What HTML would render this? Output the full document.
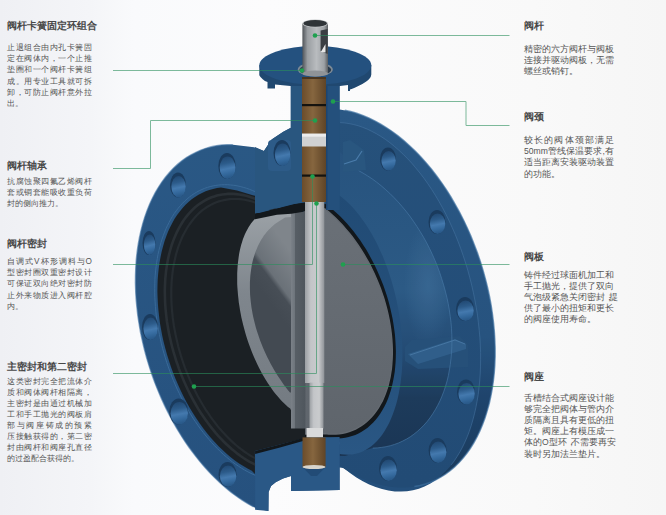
<!DOCTYPE html>
<html><head><meta charset="utf-8">
<style>
html,body{margin:0;padding:0;}
body{width:666px;height:515px;overflow:hidden;position:relative;font-family:"Liberation Sans",sans-serif;background:#f7f7f7;}
svg{position:absolute;left:0;top:0;}
.h{position:absolute;font-size:10px;font-weight:bold;color:#474747;line-height:12px;white-space:nowrap;}
.b{position:absolute;font-size:8.6px;color:#555;line-height:11.2px;white-space:nowrap;}
.b .j{text-align:justify;text-align-last:justify;}
</style></head><body>
<svg width="666" height="515" viewBox="0 0 666 515">
<defs>
<clipPath id="cLF"><path d="M291.0,127.8 L283.3,131.7 L271.6,139.4 L263.9,151.0 L254.1,147.2 L232.9,144.7 L227.3,144.7 L221.7,145.0 L216.3,145.8 L211.0,146.9 L205.7,148.3 L200.6,150.2 L195.7,152.4 L190.8,154.9 L186.1,157.8 L181.6,161.1 L177.3,164.7 L173.1,168.6 L169.1,172.9 L165.3,177.5 L161.7,182.3 L158.3,187.5 L155.1,193.0 L152.1,198.7 L149.4,204.8 L146.9,211.0 L144.6,217.5 L142.6,224.3 L140.8,231.2 L139.3,238.4 L138.0,245.7 L137.0,253.2 L136.2,260.9 L135.7,268.7 L135.5,276.6 L135.5,284.7 L135.7,292.8 L136.3,301.0 L137.1,309.3 L138.1,317.7 L139.4,326.0 L141.0,334.4 L142.8,342.8 L144.8,351.1 L147.1,359.4 L149.6,367.7 L152.4,375.8 L155.3,383.9 L158.6,391.9 L162.0,399.8 L165.6,407.6 L169.4,415.1 L173.4,422.6 L177.6,429.8 L182.0,436.9 L186.5,443.7 L191.2,450.3 L196.1,456.7 L201.1,462.9 L206.2,468.8 L211.4,474.4 L216.8,479.7 L222.2,484.7 L227.7,489.5 L233.4,493.9 L239.0,498.0 L244.8,501.7 L250.5,505.2 L256.3,508.3 L268.4,511.0 L268.6,492.0 L271.0,486.0 L276.0,482.0 L283.0,478.5 L291.0,476.0 L291.0,491.0 L339.6,490.0 L339.6,440.0 L305.0,440.0 L303.0,86.0 L290.8,86.0 L290.8,127.8 Z"/></clipPath>
<linearGradient id="gFace" gradientUnits="userSpaceOnUse" x1="0" y1="120" x2="0" y2="480"><stop offset="0" stop-color="#285582"/><stop offset="1" stop-color="#244f7b"/></linearGradient>
<linearGradient id="gInner" gradientUnits="userSpaceOnUse" x1="0" y1="150" x2="0" y2="460"><stop offset="0" stop-color="#2a5885"/><stop offset="0.45" stop-color="#2f5f8c"/><stop offset="0.66" stop-color="#254e79"/><stop offset="0.8" stop-color="#1f3e5f"/><stop offset="1" stop-color="#1c3858"/></linearGradient>
<radialGradient id="gHi" gradientUnits="userSpaceOnUse" cx="428" cy="285" r="40" gradientTransform="translate(428 285) scale(0.6 1.6) translate(-428 -285)"><stop offset="0" stop-color="#4576a3" stop-opacity="0.55"/><stop offset="1" stop-color="#4576a3" stop-opacity="0"/></radialGradient>
<linearGradient id="gBand" gradientUnits="userSpaceOnUse" x1="0" y1="190" x2="0" y2="455"><stop offset="0" stop-color="#214b75"/><stop offset="0.6" stop-color="#25507b"/><stop offset="1" stop-color="#2a5784"/></linearGradient>
<linearGradient id="gRim" gradientUnits="userSpaceOnUse" x1="0" y1="112" x2="0" y2="486"><stop offset="0" stop-color="#2d5d8c"/><stop offset="0.6" stop-color="#295886"/><stop offset="0.78" stop-color="#204670"/><stop offset="1" stop-color="#1c3d5f"/></linearGradient>
<linearGradient id="gHole" x1="0" y1="0" x2="0.15" y2="1"><stop offset="0" stop-color="#1f456e"/><stop offset="0.35" stop-color="#2c5b8a"/><stop offset="0.6" stop-color="#4479ae"/><stop offset="0.8" stop-color="#356a9e"/><stop offset="1" stop-color="#2a5a8a"/></linearGradient>
<linearGradient id="gStem" x1="0" y1="0" x2="1" y2="0"><stop offset="0" stop-color="#9b9fa3"/><stop offset="0.3" stop-color="#c3c5c8"/><stop offset="0.7" stop-color="#c9cbcd"/><stop offset="1" stop-color="#8f9398"/></linearGradient>
<linearGradient id="gStemTop" x1="0" y1="0" x2="1" y2="0"><stop offset="0" stop-color="#505459"/><stop offset="0.2" stop-color="#9a9ea2"/><stop offset="0.55" stop-color="#b9bcbf"/><stop offset="0.85" stop-color="#9da1a5"/><stop offset="1" stop-color="#5a5e62"/></linearGradient>
<linearGradient id="gBronze" x1="0" y1="0" x2="1" y2="0"><stop offset="0" stop-color="#6b4c2b"/><stop offset="0.45" stop-color="#86663f"/><stop offset="1" stop-color="#5f4427"/></linearGradient>
<linearGradient id="gHub" x1="0" y1="0" x2="1" y2="0"><stop offset="0" stop-color="#7b8188"/><stop offset="0.27" stop-color="#6d747b"/><stop offset="0.3" stop-color="#575e65"/><stop offset="1" stop-color="#4f565d"/></linearGradient>
<linearGradient id="gInt" gradientUnits="userSpaceOnUse" x1="262" y1="292" x2="300" y2="264"><stop offset="0" stop-color="#434a52"/><stop offset="0.3" stop-color="#474e56"/><stop offset="0.4" stop-color="#6a7178"/><stop offset="1" stop-color="#7f858b"/></linearGradient>
<linearGradient id="gCres" gradientUnits="userSpaceOnUse" x1="0" y1="215" x2="0" y2="410"><stop offset="0" stop-color="#9aa0a5"/><stop offset="0.4" stop-color="#7f868d"/><stop offset="1" stop-color="#747b82"/></linearGradient>
<linearGradient id="gDisc" x1="0" y1="0" x2="0" y2="1"><stop offset="0" stop-color="#6a7077"/><stop offset="1" stop-color="#5f656c"/></linearGradient>
<linearGradient id="gLF" gradientUnits="userSpaceOnUse" x1="0" y1="140" x2="0" y2="512"><stop offset="0" stop-color="#2c5c8a"/><stop offset="1" stop-color="#285583"/></linearGradient>
<linearGradient id="gBg" x1="0" y1="0" x2="1" y2="0"><stop offset="0" stop-color="#eff0f4"/><stop offset="0.135" stop-color="#f4f5f8"/><stop offset="0.2" stop-color="#f9fafc"/><stop offset="0.4" stop-color="#fcfcfd"/><stop offset="0.8" stop-color="#f9f9f9"/><stop offset="1" stop-color="#f6f6f6"/></linearGradient>
</defs>
<rect width="666" height="515" fill="url(#gBg)"/>
<path d="M339.7,109.4 L346.8,110.7 L354.1,112.5 L361.4,115.0 L368.7,118.0 L375.9,121.5 L383.2,125.7 L390.4,130.3 L397.5,135.5 L404.5,141.2 L411.4,147.4 L418.1,154.1 L424.7,161.2 L431.1,168.8 L437.2,176.8 L443.2,185.1 L448.9,193.8 L454.3,202.9 L459.5,212.2 L464.4,221.8 L468.9,231.6 L473.1,241.7 L477.0,251.9 L480.6,262.3 L483.7,272.8 L486.5,283.3 L488.9,294.0 L491.0,304.6 L492.6,315.2 L493.8,325.7 L494.7,336.2 L495.1,346.6 L495.1,356.8 L494.7,366.8 L493.9,376.6 L492.7,386.1 L491.0,395.4 L489.0,404.3 L486.6,413.0 L483.8,421.2 L480.7,429.1 L477.2,436.6 L473.3,443.6 L469.1,450.2 L464.5,456.3 L459.7,461.9 L454.5,467.0 L449.1,471.5 L443.4,475.5 L437.5,479.0 L431.3,481.9 L424.9,484.2 L418.4,485.9 L411.6,487.0 L404.7,487.5 L397.7,487.5 L390.6,486.8 L383.4,485.6 L376.2,483.7 L368.9,481.3 L361.6,478.3 L354.3,474.7 L347.1,470.6 L339.9,465.9 L326.0,468.0 L326.0,112.0 Z" fill="url(#gRim)"/>
<path d="M340.1,122.6 L346.4,123.1 L352.7,124.3 L359.1,126.1 L365.6,128.4 L372.0,131.4 L378.4,134.9 L384.8,139.0 L391.2,143.7 L397.4,148.9 L403.6,154.7 L409.7,160.9 L415.6,167.6 L421.3,174.8 L426.9,182.5 L432.3,190.5 L437.5,198.9 L442.5,207.7 L447.2,216.9 L451.7,226.3 L455.9,236.0 L459.7,245.9 L463.3,256.0 L466.6,266.3 L469.6,276.8 L472.2,287.3 L474.5,297.9 L476.4,308.5 L478.0,319.1 L479.2,329.7 L480.0,340.2 L480.5,350.6 L480.6,360.9 L480.4,371.0 L479.7,380.8 L478.7,390.5 L477.3,399.8 L475.6,408.8 L473.5,417.5 L471.1,425.9 L468.3,433.8 L465.2,441.3 L461.8,448.4 L458.1,455.0 L454.1,461.1 L449.8,466.7 L445.2,471.8 L440.4,476.3 L435.3,480.3 L430.0,483.7 L424.5,486.5 L418.9,488.7 L413.0,490.3 L407.0,491.3 L400.9,491.6 L394.7,491.4 L388.4,490.6 L382.0,489.1 L375.6,487.1 L369.2,484.4 L362.8,481.2 L356.4,477.4 L350.0,473.0 L343.7,468.0 L326.0,466.0 L326.0,121.7 Z" fill="url(#gFace)"/>
<path d="M340.0,152.0 L358.4,170.5 L363.0,173.1 L367.6,175.9 L372.2,178.9 L376.7,182.2 L381.1,185.7 L385.5,189.5 L389.8,193.4 L394.0,197.6 L398.1,201.9 L402.1,206.5 L406.0,211.2 L409.8,216.1 L413.4,221.2 L416.9,226.4 L420.3,231.8 L423.6,237.3 L426.7,242.9 L429.6,248.6 L432.4,254.5 L435.0,260.4 L437.4,266.4 L439.7,272.5 L441.7,278.7 L443.6,284.9 L445.3,291.1 L446.9,297.4 L448.2,303.6 L449.3,309.9 L450.2,316.2 L451.0,322.4 L451.5,328.6 L451.8,334.7 L451.9,340.8 L451.8,346.9 L451.5,352.8 L451.0,358.6 L450.3,364.4 L449.4,370.0 L448.4,375.5 L447.1,380.9 L445.6,386.1 L443.9,391.2 L442.0,396.1 L440.0,400.8 L437.7,405.4 L435.3,409.7 L432.7,413.9 L430.0,417.8 L427.1,421.6 L424.0,425.1 L420.8,428.3 L417.4,431.4 L413.9,434.2 L410.3,436.8 L406.5,439.1 L402.6,441.1 L398.7,442.9 L394.6,444.4 L390.4,445.7 L386.1,446.7 L381.7,447.4 L377.3,447.9 L372.8,448.1 L345.0,456.0 L326.0,456.0 L326.0,152.0 Z" fill="url(#gInner)"/>
<path d="M340.0,152.0 L358.4,170.5 L363.0,173.1 L367.6,175.9 L372.2,178.9 L376.7,182.2 L381.1,185.7 L385.5,189.5 L389.8,193.4 L394.0,197.6 L398.1,201.9 L402.1,206.5 L406.0,211.2 L409.8,216.1 L413.4,221.2 L416.9,226.4 L420.3,231.8 L423.6,237.3 L426.7,242.9 L429.6,248.6 L432.4,254.5 L435.0,260.4 L437.4,266.4 L439.7,272.5 L441.7,278.7 L443.6,284.9 L445.3,291.1 L446.9,297.4 L448.2,303.6 L449.3,309.9 L450.2,316.2 L451.0,322.4 L451.5,328.6 L451.8,334.7 L451.9,340.8 L451.8,346.9 L451.5,352.8 L451.0,358.6 L450.3,364.4 L449.4,370.0 L448.4,375.5 L447.1,380.9 L445.6,386.1 L443.9,391.2 L442.0,396.1 L440.0,400.8 L437.7,405.4 L435.3,409.7 L432.7,413.9 L430.0,417.8 L427.1,421.6 L424.0,425.1 L420.8,428.3 L417.4,431.4 L413.9,434.2 L410.3,436.8 L406.5,439.1 L402.6,441.1 L398.7,442.9 L394.6,444.4 L390.4,445.7 L386.1,446.7 L381.7,447.4 L377.3,447.9 L372.8,448.1 L345.0,456.0 L326.0,456.0 L326.0,152.0 Z" fill="url(#gHi)"/>
<polygon points="405,347 412,340 460,336 468,345 468,367 418,369 405,361" fill="#28547f"/>
<polygon points="408,354 455,339 466,344 466,349 418,364" fill="#336492"/>
<polyline points="410,355 455,340 465,344" stroke="#4a7cab" stroke-width="1" fill="none"/>
<path d="M340.1,122.6 L344.6,122.9 L349.0,123.6 L353.5,124.5 L358.1,125.7 L362.6,127.3 L367.2,129.1 L371.7,131.3 L376.3,133.7 L380.8,136.4 L385.4,139.4 L389.9,142.7 L394.3,146.3 L398.7,150.1 L403.1,154.2 L407.4,158.5 L411.7,163.1 L415.8,168.0 L419.9,173.0 L424.0,178.3 L427.9,183.8 L431.7,189.5 L435.4,195.4 L439.0,201.5 L442.5,207.8 L445.9,214.2 L449.1,220.8 L452.2,227.6 L455.2,234.4 L458.0,241.4 L460.7,248.5 L463.2,255.7 L465.6,263.0 L467.8,270.3 L469.8,277.7 L471.7,285.2 L473.4,292.7 L474.9,300.2 L476.3,307.7 L477.5,315.3 L478.4,322.8 L479.2,330.3 L479.9,337.7 L480.3,345.1 L480.6,352.5 L480.6,359.8 L480.5,366.9 L480.2,374.0 L479.7,381.0 L479.0,387.8 L478.2,394.5 L477.1,401.1 L475.9,407.5 L474.5,413.7 L472.9,419.8 L471.2,425.7 L469.3,431.3 L467.2,436.8 L464.9,442.1 L462.5,447.1 L459.9,451.9 L457.2,456.4 L454.4,460.7 L451.3,464.8" fill="none" stroke="#4a7bab" stroke-width="1" opacity="0.55"/>
<path d="M358.4,170.5 L363.0,173.1 L367.6,175.9 L372.2,178.9 L376.7,182.2 L381.1,185.7 L385.5,189.5 L389.8,193.4 L394.0,197.6 L398.1,201.9 L402.1,206.5 L406.0,211.2 L409.8,216.1 L413.4,221.2 L416.9,226.4 L420.3,231.8 L423.6,237.3 L426.7,242.9 L429.6,248.6 L432.4,254.5 L435.0,260.4 L437.4,266.4 L439.7,272.5 L441.7,278.7 L443.6,284.9 L445.3,291.1 L446.9,297.4 L448.2,303.6 L449.3,309.9 L450.2,316.2 L451.0,322.4 L451.5,328.6 L451.8,334.7 L451.9,340.8 L451.8,346.9 L451.5,352.8 L451.0,358.6 L450.3,364.4 L449.4,370.0 L448.4,375.5 L447.1,380.9 L445.6,386.1 L443.9,391.2 L442.0,396.1 L440.0,400.8 L437.7,405.4 L435.3,409.7 L432.7,413.9 L430.0,417.8 L427.1,421.6 L424.0,425.1 L420.8,428.3 L417.4,431.4 L413.9,434.2 L410.3,436.8 L406.5,439.1 L402.6,441.1 L398.7,442.9 L394.6,444.4 L390.4,445.7 L386.1,446.7 L381.7,447.4 L377.3,447.9 L372.8,448.1" fill="none" stroke="#4f82b2" stroke-width="1" opacity="0.6"/>
<path d="M344.8,110.3 L350.7,111.6 L356.7,113.3 L362.7,115.5 L368.7,118.0 L374.7,120.9 L380.7,124.2 L386.6,127.8 L392.5,131.8 L398.3,136.2 L404.1,140.9 L409.8,146.0 L415.4,151.3 L420.9,157.0 L426.2,163.0 L431.5,169.3 L436.5,175.8 L441.5,182.6 L446.3,189.7 L450.9,197.0 L455.3,204.5 L459.5,212.2 L463.5,220.1 L467.4,228.2 L471.0,236.4 L474.3,244.7 L477.5,253.1 L480.4,261.7 L483.0,270.3 L485.4,279.0 L487.6,287.7 L489.5,296.5 L491.1,305.2 L492.4,313.9 L493.5,322.6 L494.3,331.3 L494.8,339.9 L495.1,348.4 L495.1,356.7 L494.8,365.0 L494.2,373.1 L493.3,381.1 L492.2,388.8 L490.8,396.4 L489.2,403.8 L487.2,410.9 L485.0,417.9 L482.6,424.5 L479.9,430.9 L477.0,437.0 L473.8,442.8 L470.4,448.3 L466.7,453.5 L462.9,458.3 L458.8,462.8 L454.6,467.0 L450.1,470.7 L445.5,474.2 L440.7,477.2 L435.7,479.9 L430.6,482.2 L425.3,484.0 L419.9,485.5 L414.4,486.6" fill="none" stroke="#3f72a3" stroke-width="1.5" opacity="0.7"/>
<path d="M339.7,109.4 L346.8,110.7 L354.1,112.5 L361.4,115.0 L368.7,118.0 L375.9,121.5 L383.2,125.7 L390.4,130.3 L397.5,135.5 L404.5,141.2 L411.4,147.4 L418.1,154.1 L424.7,161.2 L431.1,168.8 L437.2,176.8 L443.2,185.1 L448.9,193.8 L454.3,202.9 L459.5,212.2 L464.4,221.8 L468.9,231.6 L473.1,241.7 L477.0,251.9 L480.6,262.3 L483.7,272.8 L486.5,283.3 L488.9,294.0 L491.0,304.6 L492.6,315.2 L493.8,325.7 L494.7,336.2 L495.1,346.6 L495.1,356.8 L494.7,366.8 L493.9,376.6 L492.7,386.1 L491.0,395.4 L489.0,404.3 L486.6,413.0 L483.8,421.2 L480.7,429.1 L477.2,436.6 L473.3,443.6 L469.1,450.2 L464.5,456.3 L459.7,461.9 L454.5,467.0 L449.1,471.5 L443.4,475.5 L437.5,479.0 L431.3,481.9 L424.9,484.2 L418.4,485.9 L411.6,487.0 L404.7,487.5 L397.7,487.5 L390.6,486.8 L383.4,485.6 L376.2,483.7 L368.9,481.3 L361.6,478.3 L354.3,474.7 L347.1,470.6 L339.9,465.9 L326.0,468.0 L326.0,112.0 Z" fill="#0a1a2a" opacity="0.07"/>
<path d="M331.7,190.4 L335.3,192.5 L338.9,195.0 L342.4,197.7 L345.9,200.7 L349.4,204.0 L352.8,207.6 L356.2,211.4 L359.5,215.5 L362.7,219.9 L365.9,224.4 L368.9,229.2 L371.9,234.2 L374.8,239.4 L377.5,244.8 L380.1,250.4 L382.7,256.1 L385.0,262.0 L387.3,268.1 L389.4,274.2 L391.4,280.4 L393.2,286.8 L394.9,293.2 L396.4,299.7 L397.7,306.2 L398.9,312.8 L399.9,319.3 L400.8,325.9 L401.4,332.5 L401.9,339.0 L402.3,345.5 L402.4,351.9 L402.4,358.2 L402.2,364.5 L401.9,370.6 L401.3,376.6 L400.6,382.5 L399.7,388.3 L398.7,393.8 L397.5,399.2 L396.1,404.5 L394.5,409.5 L392.8,414.3 L391.0,418.8 L389.0,423.2 L386.8,427.3 L384.6,431.1 L382.2,434.7 L379.6,438.0 L377.0,441.0 L374.2,443.8 L371.3,446.2 L368.3,448.3 L365.2,450.2 L362.1,451.7 L358.8,452.9 L355.5,453.8 L352.1,454.4 L348.7,454.7 L345.2,454.6 L341.7,454.3 L338.1,453.6 L334.5,452.6 L331.0,451.3 L305.0,453.5 L305.0,190.0 Z" fill="url(#gBand)"/>
<path d="M325.1,203.7 L328.9,206.5 L332.6,209.5 L336.3,212.7 L339.9,216.1 L343.5,219.7 L347.0,223.5 L350.4,227.4 L353.7,231.6 L357.0,235.9 L360.2,240.3 L363.2,244.9 L366.2,249.6 L369.0,254.5 L371.7,259.4 L374.3,264.5 L376.8,269.7 L379.1,274.9 L381.3,280.2 L383.4,285.6 L385.3,291.1 L387.1,296.6 L388.7,302.1 L390.1,307.6 L391.4,313.2 L392.6,318.7 L393.5,324.3 L394.3,329.8 L395.0,335.3 L395.4,340.7 L395.7,346.1 L395.9,351.4 L395.8,356.7 L395.6,361.9 L395.2,366.9 L394.7,371.9 L393.9,376.7 L393.0,381.5 L392.0,386.0 L390.8,390.5 L389.4,394.8 L387.9,398.9 L386.2,402.9 L384.3,406.7 L382.3,410.3 L380.2,413.7 L377.9,416.9 L375.5,419.9 L373.0,422.7 L370.3,425.3 L367.6,427.7 L364.7,429.8 L361.6,431.7 L358.5,433.4 L355.3,434.9 L352.0,436.1 L348.6,437.0 L345.2,437.8 L341.7,438.2 L338.1,438.5 L334.4,438.4 L330.7,438.2 L327.0,437.7 L323.2,436.9 L305.0,438.0 L305.0,204.0 Z" fill="#12171b"/>
<path d="M325.0,209.0 L328.6,211.9 L332.2,215.0 L335.7,218.3 L339.1,221.7 L342.5,225.3 L345.8,229.1 L349.1,233.0 L352.3,237.0 L355.3,241.2 L358.3,245.4 L361.2,249.8 L364.0,254.4 L366.7,259.0 L369.3,263.7 L371.7,268.5 L374.0,273.3 L376.2,278.3 L378.3,283.3 L380.3,288.3 L382.1,293.4 L383.8,298.5 L385.3,303.6 L386.7,308.8 L387.9,313.9 L389.0,319.1 L389.9,324.2 L390.7,329.3 L391.3,334.4 L391.8,339.5 L392.1,344.5 L392.3,349.4 L392.3,354.3 L392.1,359.1 L391.8,363.8 L391.4,368.4 L390.7,372.9 L390.0,377.3 L389.0,381.6 L388.0,385.8 L386.7,389.8 L385.3,393.7 L383.8,397.5 L382.2,401.1 L380.3,404.5 L378.4,407.8 L376.3,410.9 L374.1,413.8 L371.8,416.6 L369.4,419.1 L366.8,421.5 L364.1,423.7 L361.3,425.7 L358.4,427.4 L355.5,429.0 L352.4,430.4 L349.2,431.5 L346.0,432.5 L342.7,433.2 L339.3,433.7 L335.8,434.0 L332.3,434.1 L328.7,434.0 L325.1,433.6 L305.0,434.0 L305.0,208.0 Z" fill="url(#gDisc)" stroke="#656b72" stroke-width="1.4"/>
<path d="M291.0,127.8 L283.3,131.7 L271.6,139.4 L263.9,151.0 L254.1,147.2 L232.9,144.7 L227.3,144.7 L221.7,145.0 L216.3,145.8 L211.0,146.9 L205.7,148.3 L200.6,150.2 L195.7,152.4 L190.8,154.9 L186.1,157.8 L181.6,161.1 L177.3,164.7 L173.1,168.6 L169.1,172.9 L165.3,177.5 L161.7,182.3 L158.3,187.5 L155.1,193.0 L152.1,198.7 L149.4,204.8 L146.9,211.0 L144.6,217.5 L142.6,224.3 L140.8,231.2 L139.3,238.4 L138.0,245.7 L137.0,253.2 L136.2,260.9 L135.7,268.7 L135.5,276.6 L135.5,284.7 L135.7,292.8 L136.3,301.0 L137.1,309.3 L138.1,317.7 L139.4,326.0 L141.0,334.4 L142.8,342.8 L144.8,351.1 L147.1,359.4 L149.6,367.7 L152.4,375.8 L155.3,383.9 L158.6,391.9 L162.0,399.8 L165.6,407.6 L169.4,415.1 L173.4,422.6 L177.6,429.8 L182.0,436.9 L186.5,443.7 L191.2,450.3 L196.1,456.7 L201.1,462.9 L206.2,468.8 L211.4,474.4 L216.8,479.7 L222.2,484.7 L227.7,489.5 L233.4,493.9 L239.0,498.0 L244.8,501.7 L250.5,505.2 L256.3,508.3 L268.4,511.0 L268.6,492.0 L271.0,486.0 L276.0,482.0 L283.0,478.5 L291.0,476.0 L291.0,491.0 L339.6,490.0 L339.6,440.0 L305.0,440.0 L303.0,86.0 L290.8,86.0 L290.8,127.8 Z" fill="url(#gLF)"/>
<path d="M291.0,127.8 L283.3,131.7 L271.6,139.4 L263.9,151.0 L254.1,147.2 L232.9,144.7 L227.3,144.7 L221.7,145.0 L216.3,145.8 L211.0,146.9 L205.7,148.3 L200.6,150.2 L195.7,152.4 L190.8,154.9 L186.1,157.8 L181.6,161.1 L177.3,164.7 L173.1,168.6 L169.1,172.9 L165.3,177.5 L161.7,182.3 L158.3,187.5 L155.1,193.0 L152.1,198.7 L149.4,204.8 L146.9,211.0 L144.6,217.5 L142.6,224.3 L140.8,231.2 L139.3,238.4 L138.0,245.7 L137.0,253.2 L136.2,260.9 L135.7,268.7 L135.5,276.6 L135.5,284.7 L135.7,292.8 L136.3,301.0 L137.1,309.3 L138.1,317.7 L139.4,326.0 L141.0,334.4 L142.8,342.8 L144.8,351.1 L147.1,359.4 L149.6,367.7 L152.4,375.8 L155.3,383.9 L158.6,391.9 L162.0,399.8 L165.6,407.6 L169.4,415.1 L173.4,422.6 L177.6,429.8 L182.0,436.9 L186.5,443.7 L191.2,450.3 L196.1,456.7 L201.1,462.9 L206.2,468.8 L211.4,474.4 L216.8,479.7 L222.2,484.7 L227.7,489.5 L233.4,493.9 L239.0,498.0 L244.8,501.7 L250.5,505.2 L256.3,508.3 L268.4,511.0 L268.6,492.0 L271.0,486.0 L276.0,482.0 L283.0,478.5 L291.0,476.0 L291.0,491.0 L339.6,490.0 L339.6,440.0 L305.0,440.0 L303.0,86.0 L290.8,86.0 L290.8,127.8 Z" fill="#0a1a2a" opacity="0.05"/>
<path d="M232.8,144.7 L227.2,144.7 L221.8,145.0 L216.4,145.8 L211.1,146.8 L205.9,148.3 L200.8,150.1 L195.9,152.3 L191.0,154.8 L186.4,157.7 L181.9,160.9 L177.5,164.4 L173.4,168.3 L169.4,172.5 L165.6,177.0 L162.0,181.9 L158.6,187.0 L155.4,192.4 L152.5,198.0 L149.7,204.0 L147.2,210.2 L144.9,216.6 L142.9,223.2 L141.1,230.1 L139.5,237.2 L138.2,244.4 L137.1,251.9 L136.3,259.4 L135.8,267.2 L135.5,275.0 L135.4,283.0 L135.7,291.1 L136.1,299.2 L136.9,307.4 L137.8,315.7 L139.1,324.0 L140.5,332.3 L142.3,340.6 L144.2,348.9 L146.4,357.1 L148.9,365.3 L151.5,373.5 L154.4,381.5 L157.6,389.5 L160.9,397.4 L164.4,405.1 L168.1,412.7 L172.1,420.1 L176.2,427.4 L180.5,434.4 L184.9,441.3 L189.5,448.0 L194.3,454.4 L199.2,460.6 L204.2,466.5 L209.4,472.2 L214.6,477.6 L220.0,482.7 L225.4,487.5 L231.0,492.1 L236.6,496.3 L242.2,500.1 L247.9,503.7 L253.7,506.9" fill="none" stroke="#3f71a2" stroke-width="1.4" opacity="0.6"/>
<path d="M255.0,195.8 L252.8,195.2 L237.0,190.5 L221.0,187.6 L217.0,188.1 L213.1,188.9 L209.3,189.9 L205.6,191.3 L202.0,192.9 L198.5,194.8 L195.0,196.9 L191.7,199.3 L188.5,201.9 L185.5,204.8 L182.6,208.0 L179.8,211.4 L177.1,215.0 L174.6,218.8 L172.3,222.9 L170.1,227.2 L168.1,231.6 L166.3,236.3 L164.6,241.1 L163.1,246.2 L161.7,251.4 L160.6,256.7 L159.6,262.2 L158.8,267.8 L158.2,273.6 L157.7,279.4 L157.5,285.4 L157.4,291.4 L157.6,297.6 L157.9,303.8 L158.4,310.0 L159.1,316.3 L159.9,322.7 L161.0,329.0 L162.2,335.4 L163.6,341.7 L165.2,348.1 L167.0,354.4 L168.9,360.6 L171.0,366.9 L173.2,373.0 L175.6,379.1 L178.2,385.1 L180.9,391.0 L183.7,396.7 L186.7,402.4 L189.8,407.9 L193.0,413.3 L196.4,418.5 L199.8,423.6 L203.4,428.5 L207.1,433.2 L210.8,437.7 L214.7,442.0 L218.6,446.2 L222.6,450.1 L226.6,453.7 L230.7,457.2 L234.9,460.4 L239.1,463.4 L243.3,466.1 L247.5,468.5 L251.8,470.8 L254.9,474.0 L254.9,451.0 L305.0,444.0 L305.0,213.0 L255.0,213.0 Z" fill="#1b2024"/>
<g clip-path="url(#cLF)">
<path d="M207.4,187.4 L210.2,186.6 L213.1,185.9 L215.9,185.4 L218.9,185.0 L221.8,184.8 L224.8,184.7 L227.8,184.7 L230.8,185.0 L233.9,185.3 L237.0,185.8 L240.1,186.5 L243.2,187.3 L246.3,188.2 L249.5,189.3 L252.6,190.6 L255.8,191.9 L258.9,193.5 L262.0,195.1 L265.2,196.9 L268.3,198.8 L271.4,200.9 L274.5,203.1 L277.5,205.4 L280.6,207.9 L283.6,210.4 L286.6,213.1 L289.5,216.0 L292.4,218.9 L295.3,221.9 L298.2,225.1 L301.0,228.4 L303.7,231.7 L306.4,235.2 L309.0,238.8 L311.6,242.4 L314.2,246.2 L316.6,250.0 L319.1,254.0 L321.4,258.0 L323.7,262.0 L325.9,266.2 L328.0,270.4 L330.1,274.7 L332.1,279.0 L334.0,283.4 L335.8,287.8 L337.6,292.3 L339.3,296.8 L340.9,301.4 L342.3,306.0 L343.8,310.6 L345.1,315.3 L346.3,319.9 L347.4,324.6 L348.5,329.3 L349.4,333.9 L350.3,338.6 L351.1,343.3 L351.7,348.0 L352.3,352.6 L352.8,357.3 L353.1,361.9 L353.4,366.4 L353.6,371.0 L353.6,375.5 L353.6,380.0 L353.5,384.4 L353.3,388.7 L353.0,393.1 L352.5,397.3 L352.0,401.5 L351.4,405.6 L350.7,409.7 L349.9,413.6 L349.0,417.5 L348.0,421.3 L346.9,425.1 L345.7,428.7 L344.4,432.2 L343.0,435.6 L341.6,439.0 L340.0,442.2 L338.4,445.3 L336.7,448.3 L334.9,451.2 L333.0,454.0 L331.1,456.6 L329.1,459.2 L327.0,461.6 L324.8,463.8 L322.5,466.0 L320.2,468.0 L317.8,469.9 L315.4,471.6 L312.9,473.2 L310.3,474.7 L307.7,476.0 L305.0,477.2 L302.3,478.2 L299.5,479.1 L296.7,479.8 L293.8,480.4 L290.9,480.9 L288.0,481.2 L285.0,481.4 L282.0,481.4 L279.0,481.2 L276.0,480.9 L272.9,480.5 L269.8,479.9 L266.7,479.2 L263.6,478.3 L260.4,477.3 L257.3,476.1 L254.1,474.8 L251.0,473.4 L247.9,471.8 L244.7,470.1 L241.6,468.2 L238.5,466.2 L235.4,464.1 L232.3,461.8 L229.3,459.4 L226.3,456.9 L223.3,454.3 L220.3,451.5 L217.4,448.6 L214.5,445.7 L211.6,442.6 L208.8,439.3 L206.0,436.0 L203.3,432.6 L200.6,429.1 L198.0,425.5 L195.4,421.7 L192.9,418.0 L190.5,414.1 L188.1,410.1 L185.8,406.1 L183.5,402.0 L181.4,397.8 L179.3,393.5 L177.2,389.2 L175.3,384.9 L173.4,380.4 L171.6,376.0 L169.9,371.5 L168.3,366.9 L166.7,362.4 L165.3,357.8 L163.9,353.1 L162.6,348.5 L161.4,343.8 L160.4,339.1 L159.4,334.5 L158.5,329.8 L157.6,325.1 L156.9,320.4 L156.3,315.8 L155.8,311.1 L155.4,306.5 L155.1,301.9 L154.8,297.3 L154.7,292.8 L154.7,288.3 L154.8,283.9 L154.9,279.5 L155.2,275.1 L155.6,270.9 L156.1,266.6 L156.6,262.5 L157.3,258.4 L158.0,254.4 L158.9,250.5 L159.9,246.6 L160.9,242.8 L162.0,239.2 L163.3,235.6 L164.6,232.1 L166.0,228.7 L167.5,225.5 L169.1,222.3 L170.8,219.2 L172.5,216.3 L174.3,213.4 L176.3,210.7 L178.3,208.1 L180.3,205.7 L182.5,203.3 L184.7,201.1 L187.0,199.1 L189.3,197.1 L191.7,195.3 L194.2,193.6 L196.7,192.1 L199.3,190.7 L202.0,189.5 L204.7,188.3 L207.4,187.4 Z" fill="none" stroke="#3a6a98" stroke-width="1"/>
<path d="M214.3,196.4 L216.9,195.6 L219.6,195.0 L222.3,194.5 L225.0,194.2 L227.8,193.9 L230.6,193.9 L233.4,193.9 L236.3,194.1 L239.2,194.5 L242.1,194.9 L245.0,195.6 L247.9,196.3 L250.8,197.2 L253.8,198.2 L256.7,199.4 L259.7,200.7 L262.6,202.1 L265.5,203.6 L268.5,205.3 L271.4,207.1 L274.3,209.1 L277.2,211.1 L280.1,213.3 L282.9,215.6 L285.8,218.0 L288.6,220.6 L291.3,223.2 L294.1,226.0 L296.8,228.8 L299.4,231.8 L302.1,234.8 L304.6,238.0 L307.2,241.3 L309.6,244.6 L312.1,248.0 L314.5,251.6 L316.8,255.2 L319.0,258.9 L321.2,262.6 L323.4,266.4 L325.5,270.3 L327.5,274.3 L329.4,278.3 L331.3,282.4 L333.1,286.5 L334.8,290.6 L336.4,294.8 L338.0,299.1 L339.5,303.4 L340.9,307.7 L342.2,312.0 L343.5,316.4 L344.6,320.7 L345.7,325.1 L346.7,329.5 L347.5,333.9 L348.4,338.3 L349.1,342.7 L349.7,347.0 L350.2,351.4 L350.7,355.8 L351.0,360.1 L351.3,364.4 L351.4,368.6 L351.5,372.9 L351.5,377.1 L351.4,381.2 L351.1,385.3 L350.8,389.3 L350.4,393.3 L350.0,397.3 L349.4,401.1 L348.7,404.9 L347.9,408.7 L347.1,412.3 L346.2,415.9 L345.1,419.4 L344.0,422.8 L342.8,426.1 L341.5,429.3 L340.2,432.4 L338.7,435.4 L337.2,438.4 L335.6,441.2 L333.9,443.9 L332.2,446.5 L330.3,449.0 L328.4,451.4 L326.4,453.6 L324.4,455.7 L322.3,457.8 L320.1,459.6 L317.9,461.4 L315.6,463.0 L313.2,464.5 L310.8,465.9 L308.4,467.1 L305.9,468.3 L303.3,469.2 L300.7,470.1 L298.1,470.8 L295.4,471.3 L292.7,471.7 L289.9,472.0 L287.1,472.2 L284.3,472.2 L281.5,472.0 L278.6,471.8 L275.7,471.4 L272.8,470.8 L269.9,470.1 L267.0,469.3 L264.0,468.4 L261.1,467.3 L258.1,466.0 L255.2,464.7 L252.3,463.2 L249.3,461.6 L246.4,459.8 L243.5,458.0 L240.6,456.0 L237.7,453.9 L234.8,451.6 L232.0,449.3 L229.2,446.8 L226.4,444.2 L223.6,441.5 L220.9,438.7 L218.2,435.8 L215.6,432.8 L213.0,429.6 L210.4,426.4 L207.9,423.1 L205.5,419.7 L203.1,416.3 L200.7,412.7 L198.4,409.1 L196.2,405.3 L194.0,401.5 L191.9,397.7 L189.9,393.8 L187.9,389.8 L186.0,385.7 L184.2,381.7 L182.4,377.5 L180.7,373.3 L179.1,369.1 L177.6,364.8 L176.1,360.5 L174.8,356.2 L173.5,351.9 L172.3,347.5 L171.2,343.1 L170.2,338.8 L169.2,334.4 L168.4,330.0 L167.6,325.6 L166.9,321.2 L166.4,316.8 L165.9,312.5 L165.5,308.1 L165.2,303.8 L165.0,299.5 L164.9,295.3 L164.8,291.1 L164.9,286.9 L165.1,282.8 L165.3,278.7 L165.7,274.7 L166.1,270.7 L166.7,266.9 L167.3,263.0 L168.0,259.3 L168.8,255.6 L169.7,252.0 L170.7,248.4 L171.7,245.0 L172.9,241.6 L174.1,238.4 L175.5,235.2 L176.9,232.1 L178.4,229.1 L179.9,226.3 L181.6,223.5 L183.3,220.8 L185.1,218.3 L187.0,215.9 L188.9,213.6 L190.9,211.4 L193.0,209.3 L195.1,207.3 L197.3,205.5 L199.6,203.8 L201.9,202.3 L204.3,200.8 L206.7,199.5 L209.2,198.3 L211.7,197.3 L214.3,196.4 Z" fill="none" stroke="#2a3035" stroke-width="2.6"/>
<path d="M218.9,201.4 L221.4,200.7 L224.0,200.1 L226.6,199.6 L229.3,199.2 L231.9,199.0 L234.6,199.0 L237.3,199.0 L240.1,199.2 L242.9,199.5 L245.7,200.0 L248.5,200.6 L251.3,201.3 L254.1,202.2 L256.9,203.2 L259.8,204.3 L262.6,205.5 L265.4,206.9 L268.3,208.4 L271.1,210.0 L273.9,211.8 L276.7,213.6 L279.5,215.6 L282.3,217.7 L285.0,219.9 L287.7,222.2 L290.4,224.7 L293.1,227.2 L295.8,229.9 L298.4,232.6 L300.9,235.5 L303.4,238.4 L305.9,241.5 L308.4,244.6 L310.8,247.9 L313.1,251.2 L315.4,254.6 L317.6,258.0 L319.8,261.6 L321.9,265.2 L324.0,268.9 L326.0,272.6 L327.9,276.4 L329.8,280.3 L331.6,284.2 L333.3,288.2 L335.0,292.2 L336.6,296.2 L338.1,300.3 L339.5,304.4 L340.9,308.6 L342.1,312.8 L343.3,317.0 L344.4,321.2 L345.5,325.4 L346.4,329.6 L347.3,333.9 L348.0,338.1 L348.7,342.3 L349.3,346.5 L349.8,350.7 L350.3,354.9 L350.6,359.1 L350.8,363.2 L351.0,367.3 L351.1,371.4 L351.0,375.4 L350.9,379.4 L350.7,383.4 L350.4,387.3 L350.1,391.1 L349.6,394.9 L349.0,398.6 L348.4,402.3 L347.7,405.9 L346.8,409.4 L345.9,412.8 L345.0,416.2 L343.9,419.5 L342.7,422.7 L341.5,425.8 L340.2,428.8 L338.8,431.7 L337.3,434.5 L335.8,437.2 L334.1,439.8 L332.4,442.3 L330.7,444.7 L328.8,447.0 L326.9,449.2 L325.0,451.2 L322.9,453.2 L320.9,455.0 L318.7,456.7 L316.5,458.3 L314.2,459.7 L311.9,461.0 L309.5,462.2 L307.1,463.3 L304.7,464.2 L302.2,465.0 L299.6,465.7 L297.0,466.2 L294.4,466.7 L291.8,466.9 L289.1,467.1 L286.4,467.1 L283.6,467.0 L280.9,466.7 L278.1,466.3 L275.3,465.8 L272.5,465.1 L269.7,464.3 L266.8,463.4 L264.0,462.4 L261.1,461.2 L258.3,459.9 L255.5,458.4 L252.6,456.9 L249.8,455.2 L247.0,453.4 L244.2,451.5 L241.4,449.4 L238.7,447.3 L235.9,445.0 L233.2,442.6 L230.5,440.1 L227.9,437.5 L225.3,434.8 L222.7,432.0 L220.1,429.1 L217.6,426.1 L215.2,423.0 L212.8,419.8 L210.4,416.6 L208.1,413.2 L205.8,409.8 L203.6,406.3 L201.5,402.7 L199.4,399.0 L197.3,395.3 L195.4,391.5 L193.5,387.7 L191.6,383.8 L189.9,379.9 L188.2,375.9 L186.6,371.8 L185.0,367.8 L183.5,363.7 L182.1,359.5 L180.8,355.4 L179.6,351.2 L178.4,347.0 L177.4,342.8 L176.4,338.5 L175.5,334.3 L174.7,330.1 L173.9,325.9 L173.3,321.6 L172.7,317.4 L172.3,313.2 L171.9,309.0 L171.6,304.9 L171.4,300.8 L171.3,296.7 L171.3,292.6 L171.3,288.6 L171.5,284.6 L171.7,280.7 L172.1,276.8 L172.5,273.0 L173.0,269.3 L173.6,265.6 L174.3,262.0 L175.1,258.4 L175.9,254.9 L176.9,251.5 L177.9,248.2 L179.0,245.0 L180.2,241.8 L181.5,238.8 L182.8,235.8 L184.3,232.9 L185.8,230.2 L187.4,227.5 L189.0,225.0 L190.8,222.5 L192.6,220.2 L194.4,217.9 L196.4,215.8 L198.4,213.8 L200.4,211.9 L202.5,210.2 L204.7,208.6 L207.0,207.0 L209.3,205.7 L211.6,204.4 L214.0,203.3 L216.4,202.3 L218.9,201.4 Z" fill="none" stroke="#262c31" stroke-width="2.2"/>
</g>
<path d="M257.0,215.5 L255.4,218.5 L253.9,220.1 L252.4,221.8 L251.0,223.6 L249.7,225.5 L248.4,227.5 L247.2,229.7 L246.0,231.9 L244.9,234.3 L243.9,236.8 L242.9,239.3 L242.1,242.0 L241.2,244.8 L240.5,247.6 L239.8,250.6 L239.2,253.6 L238.7,256.7 L238.3,259.9 L237.9,263.1 L237.6,266.5 L237.4,269.8 L237.2,273.3 L237.2,276.8 L237.2,280.3 L237.2,283.9 L237.4,287.5 L237.7,291.2 L238.0,294.9 L238.4,298.6 L238.8,302.4 L239.4,306.1 L240.0,309.9 L240.7,313.7 L241.4,317.4 L242.3,321.2 L243.2,325.0 L244.2,328.7 L245.2,332.5 L246.3,336.2 L247.5,339.9 L248.7,343.5 L250.0,347.1 L251.4,350.7 L252.8,354.2 L254.3,357.7 L255.8,361.1 L257.4,364.5 L259.0,367.8 L260.7,371.0 L262.4,374.2 L264.2,377.3 L266.0,380.3 L267.9,383.2 L269.8,386.0 L271.7,388.7 L273.6,391.4 L275.6,393.9 L277.6,396.3 L279.7,398.7 L281.7,400.9 L283.8,403.0 L285.9,405.0 L288.0,406.9 L290.2,408.6 L291.5,411.5 L292.0,411.5 L292.0,212.0 Z" fill="url(#gCres)"/>
<path d="M292.0,217.0 L285.0,217.5 L281.1,220.1 L279.1,221.3 L277.2,222.5 L275.3,223.8 L273.5,225.3 L271.8,226.8 L270.1,228.4 L268.5,230.1 L266.9,231.8 L265.4,233.7 L263.9,235.6 L262.6,237.7 L261.2,239.8 L260.0,241.9 L258.8,244.2 L257.7,246.5 L256.7,248.9 L255.7,251.3 L254.8,253.9 L254.0,256.5 L253.2,259.1 L252.5,261.8 L251.9,264.6 L251.4,267.4 L251.0,270.3 L250.6,273.2 L250.3,276.1 L250.1,279.2 L249.9,282.2 L249.9,285.3 L249.9,288.4 L250.0,291.6 L250.1,294.8 L250.4,298.0 L250.7,301.2 L251.1,304.5 L251.5,307.8 L252.1,311.0 L252.7,314.4 L253.4,317.7 L254.2,321.0 L255.0,324.3 L255.9,327.7 L256.9,331.0 L258.0,334.3 L259.1,337.6 L260.3,340.9 L261.6,344.2 L262.9,347.5 L264.3,350.7 L265.8,354.0 L267.3,357.2 L268.9,360.3 L270.5,363.5 L272.2,366.6 L274.0,369.7 L275.8,372.7 L277.7,375.7 L279.6,378.6 L281.6,381.6 L283.6,384.4 L285.7,387.2 L287.8,389.9 L289.9,392.6 L292.0,392.4 Z" fill="url(#gInt)"/>
<rect x="291" y="212" width="14.5" height="216.5" fill="url(#gHub)"/>
<polygon points="255,214 303.2,201.8 305,202 305,211.5 291.4,213.8 277,214.7 255,219.2" fill="#13181c"/>
<polygon points="255,147 263.9,151 271.6,139.4 283.3,131.7 290.8,127.8 290.8,86 303,86 305,202.6 291.8,204.3 255,213.5" fill="#29567f"/>
<rect x="268" y="140" width="23" height="31" rx="4" fill="#2d5b88"/>
<polygon points="255.1,451 280,444.5 306.6,437.4 326,437.2 339.6,437 339.6,490 291,491 291,476 283,478.5 276,482 271,486 268.6,492 268.4,511 255.1,509.7" fill="#2a5886"/>
<polygon points="255.1,451 280,444.5 306.6,437 306.6,440 280,447.5 255.1,454" fill="#12171b"/>
<polygon points="302.5,467 325.6,467 317,476 311,476" fill="#224b76"/>
<rect x="326" y="86" width="13.8" height="124" fill="#24507c"/>
<rect x="326" y="86" width="1.5" height="124" fill="#1c4470"/>
<ellipse cx="178" cy="185" rx="8" ry="12.5" fill="#1a3b5e"/><ellipse cx="178.6" cy="186.8" rx="7.2" ry="10.7" fill="url(#gHole)"/><ellipse cx="227" cy="166" rx="8.7" ry="13" fill="#1a3b5e"/><ellipse cx="227.6" cy="167.8" rx="7.8999999999999995" ry="11.2" fill="url(#gHole)"/><ellipse cx="282" cy="153" rx="8.5" ry="13" fill="#1a3b5e"/><ellipse cx="282.6" cy="154.8" rx="7.7" ry="11.2" fill="url(#gHole)"/><ellipse cx="149" cy="243" rx="6.5" ry="12" fill="#1a3b5e"/><ellipse cx="149.6" cy="244.8" rx="5.7" ry="10.2" fill="url(#gHole)"/><ellipse cx="150" cy="327" rx="8" ry="13" fill="#1a3b5e"/><ellipse cx="150.6" cy="328.8" rx="7.2" ry="11.2" fill="url(#gHole)"/><ellipse cx="178.7" cy="411.5" rx="9.5" ry="13" fill="#1a3b5e"/><ellipse cx="179.29999999999998" cy="413.3" rx="8.7" ry="11.2" fill="url(#gHole)"/><ellipse cx="227.5" cy="474.4" rx="9" ry="12.4" fill="#1a3b5e"/><ellipse cx="228.1" cy="476.2" rx="8.2" ry="10.6" fill="url(#gHole)"/><ellipse cx="388" cy="159" rx="8" ry="11.5" fill="#1a3b5e"/><ellipse cx="388.6" cy="160.8" rx="7.2" ry="9.7" fill="url(#gHole)"/><ellipse cx="437" cy="222" rx="8.5" ry="12" fill="#1a3b5e"/><ellipse cx="437.6" cy="223.8" rx="7.7" ry="10.2" fill="url(#gHole)"/><ellipse cx="465" cy="309" rx="9" ry="12" fill="#1a3b5e"/><ellipse cx="465.6" cy="310.8" rx="8.2" ry="10.2" fill="url(#gHole)"/><ellipse cx="466" cy="392" rx="9" ry="12.5" fill="#1a3b5e"/><ellipse cx="466.6" cy="393.8" rx="8.2" ry="10.7" fill="url(#gHole)"/><ellipse cx="437.6" cy="450.5" rx="9" ry="12.5" fill="#1a3b5e"/><ellipse cx="438.20000000000005" cy="452.3" rx="8.2" ry="10.7" fill="url(#gHole)"/><ellipse cx="388" cy="468.5" rx="9" ry="12.5" fill="#1a3b5e"/><ellipse cx="388.6" cy="470.3" rx="8.2" ry="10.7" fill="url(#gHole)"/>
<polygon points="343,142 350,140 364,150 366,170 343,172" fill="#29567f"/>
<polyline points="344,164 356,160 362,151" stroke="#4a7cab" stroke-width="1.2" fill="none"/>
<rect x="305" y="202" width="19.3" height="181" fill="url(#gStem)"/>
<rect x="309.5" y="382.6" width="14" height="46" fill="url(#gStem)"/>
<rect x="306.5" y="428" width="16.5" height="9.4" fill="#d9dadb"/>
<rect x="302.5" y="437.4" width="23.1" height="29.9" fill="url(#gBronze)"/>
<ellipse cx="314" cy="467" rx="11.5" ry="2" fill="#d7d4cc"/>
<path d="M259.3,65.3 L259.3,75.2 Q262,80 267.5,82 L267.5,88.6 L275,88.6 L275,84.5 L290.5,86 L340,86 L348,85 L348,91 L350,91 L350,89.5 C356,87.5 364,84 369,79.3 Q371.3,77 371.3,74.6 L371.3,65.3 Z" fill="#204870"/>
<ellipse cx="315.3" cy="65.3" rx="56" ry="19.3" fill="#24517f"/>
<ellipse cx="315.3" cy="69.5" rx="17.5" ry="7" fill="#7d8a96"/>
<ellipse cx="315.3" cy="69.8" rx="15.8" ry="5.8" fill="#2a3a4a"/>
<rect x="302" y="77" width="24" height="125" fill="url(#gBronze)"/>
<rect x="302" y="77" width="24" height="2" fill="#4a3620"/>
<rect x="302" y="104" width="24" height="2.2" fill="#15130f"/>
<rect x="302" y="174.5" width="24" height="2.2" fill="#15130f"/>
<rect x="302" y="133.7" width="24" height="12.8" fill="#d0d1d2"/>
<rect x="302" y="133.7" width="24" height="3" fill="#ececec"/>
<rect x="302.4" y="23.5" width="25.6" height="50" fill="url(#gStemTop)"/>
<ellipse cx="315.2" cy="73.5" rx="12.8" ry="3" fill="#8f9397"/>
<ellipse cx="315.2" cy="23.5" rx="12.8" ry="4" fill="#c0c3c6"/>
<ellipse cx="315.2" cy="23.4" rx="11.8" ry="3.3" fill="#2f3438"/>
<polygon points="320.6,30.5 327.6,29 327.6,54 320.6,51" fill="#3a3e42"/>
<polygon points="320.8,52 325.5,44 325.5,52.5" fill="#e6e6e6"/>
<g stroke="#2a8f5c" stroke-width="1" fill="none" opacity="0.6">
<polyline points="113,70.5 302,70.5"/>
<polyline points="113,168.5 150.5,168.5 150.5,120.5 315,120.5"/>
<polyline points="113,264.5 312.5,264.5 312.5,176"/>
<polyline points="113,373.5 316.5,373.5 316.5,203"/>
<polyline points="315,35.5 509.5,35.5"/>
<polyline points="333,101.5 466,101.5 466,125.5 509.5,125.5"/>
<polyline points="343,264.5 509.5,264.5"/>
<polyline points="194,386.5 509.5,386.5"/>
</g>
<g fill="#1fa04f">
<circle cx="302" cy="70.5" r="2.3"/><circle cx="315" cy="120.5" r="2.3"/><circle cx="312.5" cy="176.5" r="2.3"/><circle cx="316.5" cy="203.5" r="2.3"/>
<circle cx="315" cy="35.5" r="2.3"/><circle cx="333" cy="101.5" r="2.3"/><circle cx="343" cy="264.5" r="2.3"/><circle cx="194" cy="386.5" r="2.3"/>
</g>
</svg>
<div class="h" style="left:7px;top:20px;">阀杆卡簧固定环组合</div>
<div class="b" style="left:7px;top:42px;font-size:8.2px;line-height:11.2px;"><div class="j" style="width:85px">止退组合由内孔卡簧固</div><div class="j" style="width:85px">定在阀体内，一个止推</div><div class="j" style="width:85px">垫圈和一个阀杆卡簧组</div><div class="j" style="width:85px">成。用专业工具就可拆</div><div class="j" style="width:85px">卸，可防止阀杆意外拉</div><div class="l" style="width:85px">出。</div></div>
<div class="h" style="left:7px;top:160px;">阀杆轴承</div>
<div class="b" style="left:7px;top:175.5px;font-size:8.2px;line-height:11.2px;"><div class="j" style="width:85px">抗腐蚀聚四氟乙烯阀杆</div><div class="j" style="width:85px">套或铜套能吸收重负荷</div><div class="l" style="width:85px">封的侧向推力。</div></div>
<div class="h" style="left:7px;top:238px;">阀杆密封</div>
<div class="b" style="left:7px;top:256px;font-size:8.2px;line-height:11.2px;"><div class="j" style="width:85px">自调式V杯形调料与O</div><div class="j" style="width:85px">型密封圈双重密封设计</div><div class="j" style="width:85px">可保证双向绝对密封防</div><div class="j" style="width:85px">止外来物质进入阀杆腔</div><div class="l" style="width:85px">内。</div></div>
<div class="h" style="left:7px;top:361px;">主密封和第二密封</div>
<div class="b" style="left:7px;top:376px;font-size:8.2px;line-height:11.05px;"><div class="j" style="width:85px">这类密封完全把流体介</div><div class="j" style="width:85px">质和阀体阀杆相隔离，</div><div class="j" style="width:85px">主密封是由通过机械加</div><div class="j" style="width:85px">工和手工抛光的阀板肩</div><div class="j" style="width:85px">部与阀座铸成的预紧</div><div class="j" style="width:85px">压接触获得的，第二密</div><div class="j" style="width:85px">封由阀杆和阀座孔直径</div><div class="l" style="width:85px">的过盈配合获得的。</div></div>
<div class="h" style="left:524px;top:20px;">阀杆</div>
<div class="b" style="left:524px;top:43.5px;font-size:8.6px;line-height:11.2px;"><div class="j" style="width:90px">精密的六方阀杆与阀板</div><div class="j" style="width:90px">连接并驱动阀板，无需</div><div class="l" style="width:90px">螺丝或销钉。</div></div>
<div class="h" style="left:524px;top:111px;">阀颈</div>
<div class="b" style="left:524px;top:135px;font-size:8.6px;line-height:11.2px;"><div class="j" style="width:90px">较长的阀体颈部满足</div><div class="j" style="width:90px">50mm管线保温要求,有</div><div class="j" style="width:90px">适当距离安装驱动装置</div><div class="l" style="width:90px">的功能。</div></div>
<div class="h" style="left:524px;top:251px;">阀板</div>
<div class="b" style="left:524px;top:269.5px;font-size:8.6px;line-height:11.2px;"><div class="j" style="width:90px">铸件经过球面机加工和</div><div class="j" style="width:90px">手工抛光，提供了双向</div><div class="j" style="width:90px">气泡级紧急关闭密封<span style="letter-spacing:-5px">，</span>提</div><div class="j" style="width:90px">供了最小的扭矩和更长</div><div class="l" style="width:90px">的阀座使用寿命。</div></div>
<div class="h" style="left:524px;top:371px;">阀座</div>
<div class="b" style="left:524px;top:392.5px;font-size:8.6px;line-height:11.2px;"><div class="j" style="width:90px">舌槽结合式阀座设计能</div><div class="j" style="width:90px">够完全把阀体与管内介</div><div class="j" style="width:90px">质隔离且具有更低的扭</div><div class="j" style="width:90px">矩。阀座上有模压成一</div><div class="j" style="width:90px">体的O型环<span style="letter-spacing:-5px">，</span>不需要再安</div><div class="l" style="width:90px">装时另加法兰垫片。</div></div>
</body></html>
